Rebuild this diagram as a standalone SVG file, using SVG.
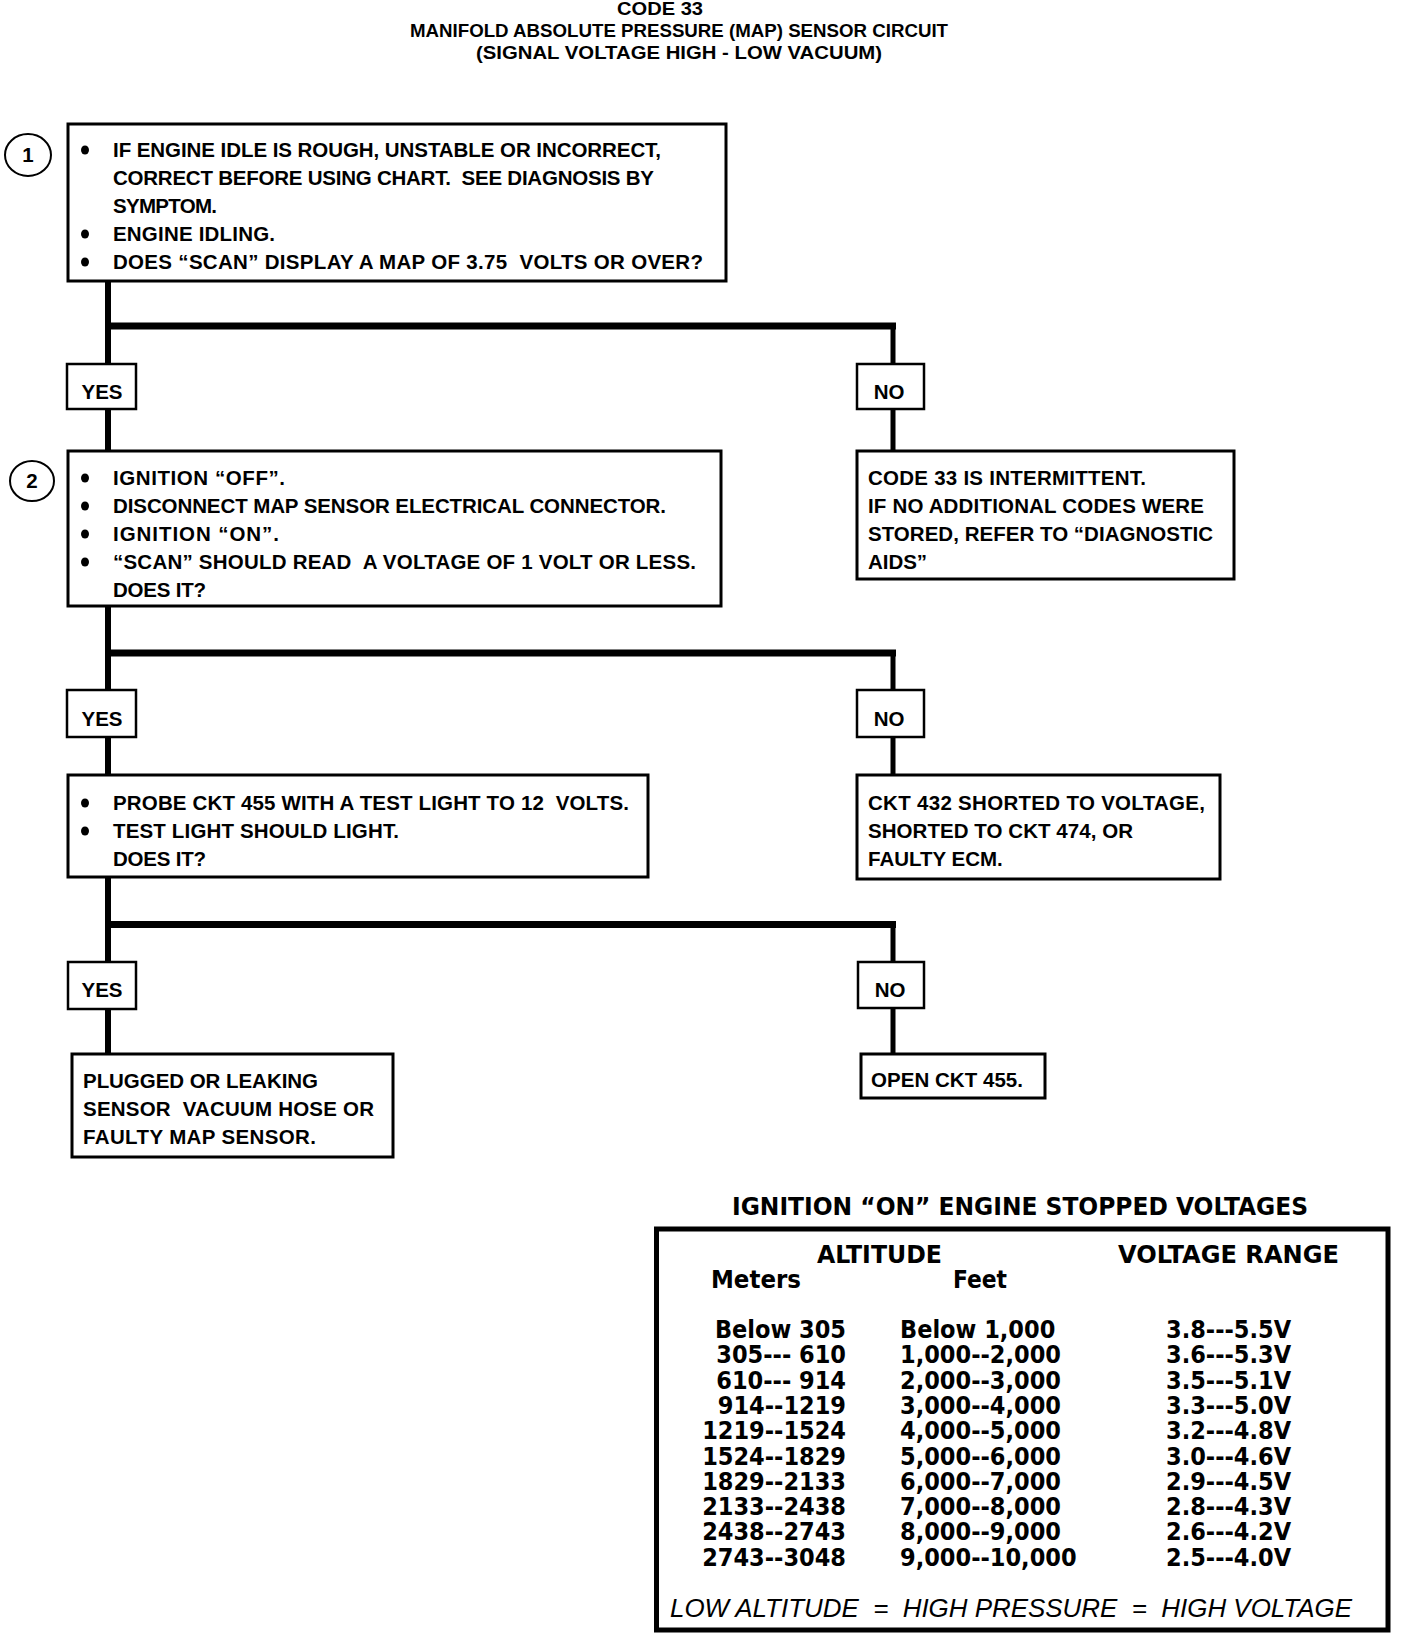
<svg xmlns="http://www.w3.org/2000/svg" width="1408" height="1636" viewBox="0 0 1408 1636">
<style>
.bg{fill:#fff}
.box{fill:#fff;stroke:#000;stroke-width:3}
.lbl{fill:#fff;stroke:#000;stroke-width:2.5}
.t{font-family:"Liberation Sans",Arial,sans-serif;font-weight:bold;font-size:20.5px;fill:#000;white-space:pre}
.ttl{font-family:"Liberation Sans",Arial,sans-serif;font-weight:bold;font-size:18px;fill:#000;text-anchor:middle}
.c{text-anchor:middle}
.trunk{fill:none;stroke:#000;stroke-width:6}
.bar{fill:none;stroke:#000;stroke-width:7}
.br{fill:none;stroke:#000;stroke-width:5}
.circ{fill:#fff;stroke:#000;stroke-width:2}
.tb{font-family:"DejaVu Sans Condensed","DejaVu Sans",sans-serif;font-weight:bold;font-size:24px;fill:#000;white-space:pre}
.hd{font-size:25px}
.row{font-size:25px}
.end{text-anchor:end}
.ft{font-family:"Liberation Sans",Arial,sans-serif;font-style:italic;font-size:26px;fill:#000;white-space:pre}
</style>
<defs>
<ellipse id="dot" cx="0" cy="0" rx="4" ry="4.5" fill="#000"/>
</defs>
<rect class="bg" x="0" y="0" width="1408" height="1636"/>

<g id="title">
<text class="ttl" x="660" y="15" textLength="86" lengthAdjust="spacingAndGlyphs">CODE 33</text>
<text class="ttl" x="679" y="37" textLength="538" lengthAdjust="spacingAndGlyphs">MANIFOLD ABSOLUTE PRESSURE (MAP) SENSOR CIRCUIT</text>
<text class="ttl" x="679" y="59" textLength="406" lengthAdjust="spacingAndGlyphs">(SIGNAL VOLTAGE HIGH - LOW VACUUM)</text>
</g>

<g id="connectors">
<path class="trunk" d="M108,282 V364 M108,409 V451 M108,606 V690 M108,737 V775 M108,877 V962 M108,1009 V1054"/>
<path class="bar" d="M105,326 H896 M105,653 H896 M105,924.5 H896"/>
<path class="br" d="M893,326 V364 M893,409 V451 M893,653 V690 M893,737 V775 M893,924.5 V962 M893,1008 V1054"/>
</g>

<g id="step1">
<ellipse class="circ" cx="28" cy="155" rx="23" ry="21"/>
<text class="t c" x="28" y="162">1</text>
</g>
<g id="box1">
<rect class="box" x="68" y="124" width="658" height="157"/>
<use href="#dot" x="85" y="150"/>
<use href="#dot" x="85" y="234"/>
<use href="#dot" x="85" y="262"/>
<text class="t" x="113" y="157" textLength="548">IF ENGINE IDLE IS ROUGH, UNSTABLE OR INCORRECT,</text>
<text class="t" x="113" y="185" textLength="541">CORRECT BEFORE USING CHART.  SEE DIAGNOSIS BY</text>
<text class="t" x="113" y="213" textLength="104">SYMPTOM.</text>
<text class="t" x="113" y="241" textLength="162">ENGINE IDLING.</text>
<text class="t" x="113" y="269" textLength="590">DOES “SCAN” DISPLAY A MAP OF 3.75  VOLTS OR OVER?</text>
</g>

<g id="yes1"><rect class="lbl" x="67" y="364" width="69" height="45"/><text class="t c" x="102" y="399">YES</text></g>
<g id="no1"><rect class="lbl" x="857" y="364" width="67" height="45"/><text class="t c" x="889" y="399">NO</text></g>

<g id="step2">
<ellipse class="circ" cx="32" cy="481" rx="22" ry="20"/>
<text class="t c" x="32" y="488">2</text>
</g>
<g id="box2">
<rect class="box" x="68" y="451" width="653" height="155"/>
<use href="#dot" x="85" y="478"/>
<use href="#dot" x="85" y="506"/>
<use href="#dot" x="85" y="534"/>
<use href="#dot" x="85" y="562"/>
<text class="t" x="113" y="485" textLength="172">IGNITION “OFF”.</text>
<text class="t" x="113" y="513" textLength="553">DISCONNECT MAP SENSOR ELECTRICAL CONNECTOR.</text>
<text class="t" x="113" y="541" textLength="166">IGNITION “ON”.</text>
<text class="t" x="113" y="569" textLength="583">“SCAN” SHOULD READ  A VOLTAGE OF 1 VOLT OR LESS.</text>
<text class="t" x="113" y="597" textLength="93">DOES IT?</text>
</g>

<g id="intermittent">
<rect class="box" x="857" y="451" width="377" height="128"/>
<text class="t" x="868" y="485" textLength="278">CODE 33 IS INTERMITTENT.</text>
<text class="t" x="868" y="513" textLength="336">IF NO ADDITIONAL CODES WERE</text>
<text class="t" x="868" y="541" textLength="345">STORED, REFER TO “DIAGNOSTIC</text>
<text class="t" x="868" y="569" textLength="59">AIDS”</text>
</g>

<g id="yes2"><rect class="lbl" x="67" y="690" width="69" height="47"/><text class="t c" x="102" y="726">YES</text></g>
<g id="no2"><rect class="lbl" x="857" y="690" width="67" height="47"/><text class="t c" x="889" y="726">NO</text></g>

<g id="box3">
<rect class="box" x="68" y="775" width="580" height="102"/>
<use href="#dot" x="85" y="803"/>
<use href="#dot" x="85" y="831"/>
<text class="t" x="113" y="810" textLength="516">PROBE CKT 455 WITH A TEST LIGHT TO 12  VOLTS.</text>
<text class="t" x="113" y="838" textLength="286">TEST LIGHT SHOULD LIGHT.</text>
<text class="t" x="113" y="866" textLength="93">DOES IT?</text>
</g>

<g id="shorted">
<rect class="box" x="857" y="775" width="363" height="104"/>
<text class="t" x="868" y="810" textLength="337">CKT 432 SHORTED TO VOLTAGE,</text>
<text class="t" x="868" y="838" textLength="265">SHORTED TO CKT 474, OR</text>
<text class="t" x="868" y="866">FAULTY ECM.</text>
</g>

<g id="yes3"><rect class="lbl" x="68" y="962" width="68" height="47"/><text class="t c" x="102" y="997">YES</text></g>
<g id="no3"><rect class="lbl" x="858" y="962" width="66" height="46"/><text class="t c" x="890" y="997">NO</text></g>

<g id="plugged">
<rect class="box" x="72" y="1054" width="321" height="103"/>
<text class="t" x="83" y="1088" textLength="235">PLUGGED OR LEAKING</text>
<text class="t" x="83" y="1116" textLength="291">SENSOR  VACUUM HOSE OR</text>
<text class="t" x="83" y="1144" textLength="233">FAULTY MAP SENSOR.</text>
</g>

<g id="open">
<rect class="box" x="861" y="1054" width="184" height="44"/>
<text class="t" x="871" y="1087" textLength="152">OPEN CKT 455.</text>
</g>

<g id="table">
<text class="tb" x="1020" y="1215" text-anchor="middle" textLength="576" lengthAdjust="spacingAndGlyphs">IGNITION “ON” ENGINE STOPPED VOLTAGES</text>
<rect x="656.5" y="1229" width="731.5" height="401" fill="none" stroke="#000" stroke-width="5"/>
<text class="tb hd" x="817" y="1263" textLength="125" lengthAdjust="spacingAndGlyphs">ALTITUDE</text>
<text class="tb hd" x="1118" y="1263" textLength="221" lengthAdjust="spacingAndGlyphs">VOLTAGE RANGE</text>
<text class="tb hd" x="711" y="1288" textLength="90" lengthAdjust="spacingAndGlyphs">Meters</text>
<text class="tb hd" x="953" y="1288" textLength="54" lengthAdjust="spacingAndGlyphs">Feet</text>
<g class="tb row end">
<text x="846" y="1338">Below 305</text>
<text x="846" y="1363.3">305--- 610</text>
<text x="846" y="1388.6">610--- 914</text>
<text x="846" y="1413.9">914--1219</text>
<text x="846" y="1439.2">1219--1524</text>
<text x="846" y="1464.5">1524--1829</text>
<text x="846" y="1489.8">1829--2133</text>
<text x="846" y="1515.1">2133--2438</text>
<text x="846" y="1540.4">2438--2743</text>
<text x="846" y="1565.7">2743--3048</text>
</g>
<g class="tb row">
<text x="900" y="1338">Below 1,000</text>
<text x="900" y="1363.3">1,000--2,000</text>
<text x="900" y="1388.6">2,000--3,000</text>
<text x="900" y="1413.9">3,000--4,000</text>
<text x="900" y="1439.2">4,000--5,000</text>
<text x="900" y="1464.5">5,000--6,000</text>
<text x="900" y="1489.8">6,000--7,000</text>
<text x="900" y="1515.1">7,000--8,000</text>
<text x="900" y="1540.4">8,000--9,000</text>
<text x="900" y="1565.7">9,000--10,000</text>
</g>
<g class="tb row">
<text x="1166" y="1338">3.8---5.5V</text>
<text x="1166" y="1363.3">3.6---5.3V</text>
<text x="1166" y="1388.6">3.5---5.1V</text>
<text x="1166" y="1413.9">3.3---5.0V</text>
<text x="1166" y="1439.2">3.2---4.8V</text>
<text x="1166" y="1464.5">3.0---4.6V</text>
<text x="1166" y="1489.8">2.9---4.5V</text>
<text x="1166" y="1515.1">2.8---4.3V</text>
<text x="1166" y="1540.4">2.6---4.2V</text>
<text x="1166" y="1565.7">2.5---4.0V</text>
</g>
<text class="ft" x="670" y="1617" textLength="682" lengthAdjust="spacingAndGlyphs">LOW ALTITUDE  =  HIGH PRESSURE  =  HIGH VOLTAGE</text>
</g>
</svg>
